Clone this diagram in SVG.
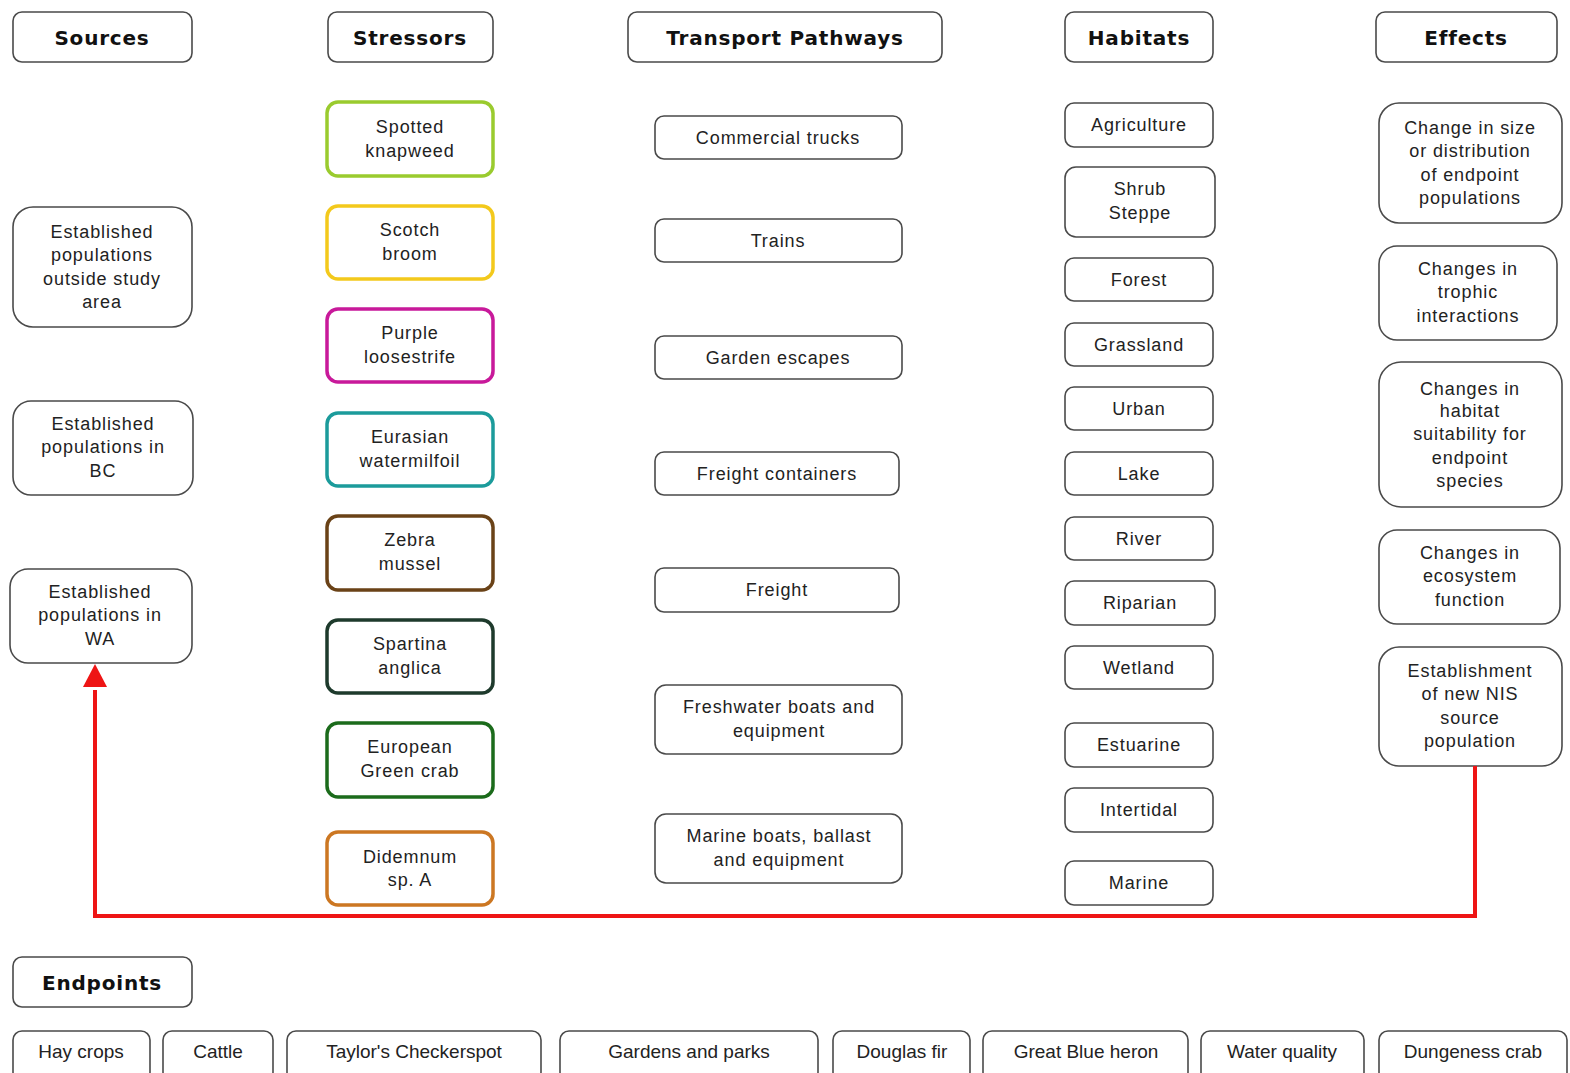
<svg xmlns="http://www.w3.org/2000/svg" width="1570" height="1073" viewBox="0 0 1570 1073">
  <style>
    .box { fill: #ffffff; stroke: #4a4a4a; stroke-width: 1.6; }
    .sp { fill: #ffffff; stroke-width: 3.5; }
    .hd { font-family: "DejaVu Sans", "Liberation Sans", sans-serif; font-weight: bold; font-size: 20px; fill: #111; text-anchor: middle; letter-spacing: 0.8px; }
    .tx { font-family: "Liberation Sans", Arial, sans-serif; font-size: 18px; fill: #222; text-anchor: middle; letter-spacing: 0.9px; }
    .ep { font-family: "Liberation Sans", Arial, sans-serif; font-size: 19px; fill: #222; text-anchor: middle; }
    .link { fill: none; stroke: #ee1515; stroke-width: 4; stroke-linejoin: miter; }
  </style>
  <defs>
    <marker id="arrow" viewBox="0 0 10 10" refX="10" refY="5" markerWidth="6" markerHeight="6" orient="auto" markerUnits="strokeWidth">
      <path d="M0,0 L10,5 L0,10 Z" fill="#ee1515"/>
    </marker>
  </defs>
  <rect width="1570" height="1073" fill="#ffffff"/>

  <!-- column headers -->
  <g id="hdr-sources"><rect class="box" x="13" y="12" width="179" height="50" rx="9"/><text class="hd" x="102" y="45">Sources</text></g>
  <g id="hdr-stressors"><rect class="box" x="328" y="12" width="165" height="50" rx="9"/><text class="hd" x="410" y="45">Stressors</text></g>
  <g id="hdr-transport"><rect class="box" x="628" y="12" width="314" height="50" rx="9"/><text class="hd" x="785" y="45">Transport Pathways</text></g>
  <g id="hdr-habitats"><rect class="box" x="1065" y="12" width="148" height="50" rx="9"/><text class="hd" x="1139" y="45">Habitats</text></g>
  <g id="hdr-effects"><rect class="box" x="1376" y="12" width="181" height="50" rx="9"/><text class="hd" x="1466" y="45">Effects</text></g>

  <!-- sources -->
  <g id="src-outside"><rect class="box" x="13" y="207" width="179" height="120" rx="20"/>
    <text class="tx" x="102" y="238">Established</text><text class="tx" x="102" y="261">populations</text><text class="tx" x="102" y="285">outside study</text><text class="tx" x="102" y="308">area</text></g>
  <g id="src-bc"><rect class="box" x="13" y="401" width="180" height="94" rx="18"/>
    <text class="tx" x="103" y="430">Established</text><text class="tx" x="103" y="453">populations in</text><text class="tx" x="103" y="477">BC</text></g>
  <g id="src-wa"><rect class="box" x="10" y="569" width="182" height="94" rx="18"/>
    <text class="tx" x="100" y="598">Established</text><text class="tx" x="100" y="621">populations in</text><text class="tx" x="100" y="645">WA</text></g>

  <!-- stressors -->
  <g id="st-knapweed"><rect class="sp" stroke="#9acb2e" x="327" y="102" width="166" height="74" rx="11"/>
    <text class="tx" x="410" y="133">Spotted</text><text class="tx" x="410" y="157">knapweed</text></g>
  <g id="st-broom"><rect class="sp" stroke="#f3c91c" x="327" y="206" width="166" height="73" rx="11"/>
    <text class="tx" x="410" y="236">Scotch</text><text class="tx" x="410" y="260">broom</text></g>
  <g id="st-loosestrife"><rect class="sp" stroke="#c8199a" x="327" y="309" width="166" height="73" rx="11"/>
    <text class="tx" x="410" y="339">Purple</text><text class="tx" x="410" y="363">loosestrife</text></g>
  <g id="st-milfoil"><rect class="sp" stroke="#1b9b9b" x="327" y="413" width="166" height="73" rx="11"/>
    <text class="tx" x="410" y="443">Eurasian</text><text class="tx" x="410" y="467">watermilfoil</text></g>
  <g id="st-mussel"><rect class="sp" stroke="#6a4217" x="327" y="516" width="166" height="74" rx="11"/>
    <text class="tx" x="410" y="546">Zebra</text><text class="tx" x="410" y="570">mussel</text></g>
  <g id="st-spartina"><rect class="sp" stroke="#1e3a2c" x="327" y="620" width="166" height="73" rx="11"/>
    <text class="tx" x="410" y="650">Spartina</text><text class="tx" x="410" y="674">anglica</text></g>
  <g id="st-crab"><rect class="sp" stroke="#1b6b1b" x="327" y="723" width="166" height="74" rx="11"/>
    <text class="tx" x="410" y="753">European</text><text class="tx" x="410" y="777">Green crab</text></g>
  <g id="st-didemnum"><rect class="sp" stroke="#cc7722" x="327" y="832" width="166" height="73" rx="11"/>
    <text class="tx" x="410" y="863">Didemnum</text><text class="tx" x="410" y="886">sp. A</text></g>

  <!-- transport pathways -->
  <g id="tp-trucks"><rect class="box" x="655" y="116" width="247" height="43" rx="9"/><text class="tx" x="778" y="144">Commercial trucks</text></g>
  <g id="tp-trains"><rect class="box" x="655" y="219" width="247" height="43" rx="9"/><text class="tx" x="778" y="247">Trains</text></g>
  <g id="tp-garden"><rect class="box" x="655" y="336" width="247" height="43" rx="9"/><text class="tx" x="778" y="364">Garden escapes</text></g>
  <g id="tp-containers"><rect class="box" x="655" y="452" width="244" height="43" rx="9"/><text class="tx" x="777" y="480">Freight containers</text></g>
  <g id="tp-freight"><rect class="box" x="655" y="568" width="244" height="44" rx="9"/><text class="tx" x="777" y="596">Freight</text></g>
  <g id="tp-freshwater"><rect class="box" x="655" y="685" width="247" height="69" rx="11"/>
    <text class="tx" x="779" y="713">Freshwater boats and</text><text class="tx" x="779" y="737">equipment</text></g>
  <g id="tp-marine"><rect class="box" x="655" y="814" width="247" height="69" rx="11"/>
    <text class="tx" x="779" y="842">Marine boats, ballast</text><text class="tx" x="779" y="866">and equipment</text></g>

  <!-- habitats -->
  <g id="hb-agriculture"><rect class="box" x="1065" y="103" width="148" height="44" rx="9"/><text class="tx" x="1139" y="131">Agriculture</text></g>
  <g id="hb-shrub"><rect class="box" x="1065" y="167" width="150" height="70" rx="11"/>
    <text class="tx" x="1140" y="195">Shrub</text><text class="tx" x="1140" y="219">Steppe</text></g>
  <g id="hb-forest"><rect class="box" x="1065" y="258" width="148" height="43" rx="9"/><text class="tx" x="1139" y="286">Forest</text></g>
  <g id="hb-grassland"><rect class="box" x="1065" y="323" width="148" height="43" rx="9"/><text class="tx" x="1139" y="351">Grassland</text></g>
  <g id="hb-urban"><rect class="box" x="1065" y="387" width="148" height="43" rx="9"/><text class="tx" x="1139" y="415">Urban</text></g>
  <g id="hb-lake"><rect class="box" x="1065" y="452" width="148" height="43" rx="9"/><text class="tx" x="1139" y="480">Lake</text></g>
  <g id="hb-river"><rect class="box" x="1065" y="517" width="148" height="43" rx="9"/><text class="tx" x="1139" y="545">River</text></g>
  <g id="hb-riparian"><rect class="box" x="1065" y="581" width="150" height="44" rx="9"/><text class="tx" x="1140" y="609">Riparian</text></g>
  <g id="hb-wetland"><rect class="box" x="1065" y="646" width="148" height="43" rx="9"/><text class="tx" x="1139" y="674">Wetland</text></g>
  <g id="hb-estuarine"><rect class="box" x="1065" y="723" width="148" height="44" rx="9"/><text class="tx" x="1139" y="751">Estuarine</text></g>
  <g id="hb-intertidal"><rect class="box" x="1065" y="788" width="148" height="44" rx="9"/><text class="tx" x="1139" y="816">Intertidal</text></g>
  <g id="hb-marine"><rect class="box" x="1065" y="861" width="148" height="44" rx="9"/><text class="tx" x="1139" y="889">Marine</text></g>

  <!-- effects -->
  <g id="ef-size"><rect class="box" x="1379" y="103" width="183" height="120" rx="20"/>
    <text class="tx" x="1470" y="134">Change in size</text><text class="tx" x="1470" y="157">or distribution</text><text class="tx" x="1470" y="181">of endpoint</text><text class="tx" x="1470" y="204">populations</text></g>
  <g id="ef-trophic"><rect class="box" x="1379" y="246" width="178" height="94" rx="18"/>
    <text class="tx" x="1468" y="275">Changes in</text><text class="tx" x="1468" y="298">trophic</text><text class="tx" x="1468" y="322">interactions</text></g>
  <g id="ef-habitat"><rect class="box" x="1379" y="362" width="183" height="145" rx="22"/>
    <text class="tx" x="1470" y="395">Changes in</text><text class="tx" x="1470" y="417">habitat</text><text class="tx" x="1470" y="440">suitability for</text><text class="tx" x="1470" y="464">endpoint</text><text class="tx" x="1470" y="487">species</text></g>
  <g id="ef-ecosystem"><rect class="box" x="1379" y="530" width="181" height="94" rx="18"/>
    <text class="tx" x="1470" y="559">Changes in</text><text class="tx" x="1470" y="582">ecosystem</text><text class="tx" x="1470" y="606">function</text></g>
  <g id="ef-establish"><rect class="box" x="1379" y="647" width="183" height="119" rx="20"/>
    <text class="tx" x="1470" y="677">Establishment</text><text class="tx" x="1470" y="700">of new NIS</text><text class="tx" x="1470" y="724">source</text><text class="tx" x="1470" y="747">population</text></g>

  <!-- feedback: new source population back to WA populations -->
  <g id="connectors">
    <path class="link" d="M1475,766 V916 H95 V690" />
    <path d="M83,687 L95,664 L107,687 Z" fill="#ee1515"/>
  </g>

  <!-- endpoints -->
  <g id="hdr-endpoints"><rect class="box" x="13" y="957" width="179" height="50" rx="9"/><text class="hd" x="102" y="990">Endpoints</text></g>
  <g id="ep-hay"><rect class="box" x="13" y="1031" width="137" height="50" rx="9"/><text class="ep" x="81" y="1058">Hay crops</text></g>
  <g id="ep-cattle"><rect class="box" x="163" y="1031" width="110" height="50" rx="9"/><text class="ep" x="218" y="1058">Cattle</text></g>
  <g id="ep-checkerspot"><rect class="box" x="287" y="1031" width="254" height="50" rx="9"/><text class="ep" x="414" y="1058">Taylor's Checkerspot</text></g>
  <g id="ep-gardens"><rect class="box" x="560" y="1031" width="258" height="50" rx="9"/><text class="ep" x="689" y="1058">Gardens and parks</text></g>
  <g id="ep-fir"><rect class="box" x="833" y="1031" width="137" height="50" rx="9"/><text class="ep" x="902" y="1058">Douglas fir</text></g>
  <g id="ep-heron"><rect class="box" x="983" y="1031" width="205" height="50" rx="9"/><text class="ep" x="1086" y="1058">Great Blue heron</text></g>
  <g id="ep-water"><rect class="box" x="1201" y="1031" width="163" height="50" rx="9"/><text class="ep" x="1282" y="1058">Water quality</text></g>
  <g id="ep-dungeness"><rect class="box" x="1379" y="1031" width="188" height="50" rx="9"/><text class="ep" x="1473" y="1058">Dungeness crab</text></g>
</svg>
